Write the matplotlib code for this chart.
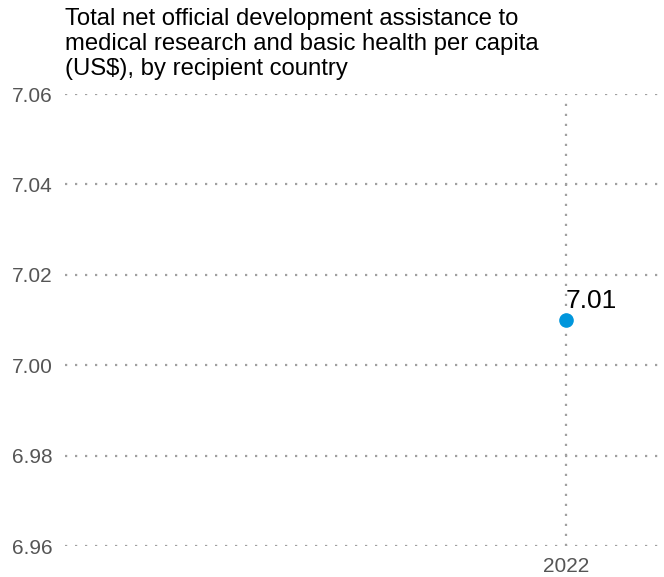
import matplotlib
matplotlib.use('Agg')
from matplotlib import pyplot as plt

plt.rcParams['font.family'] = ['Liberation Sans', 'DejaVu Sans']

years = [2022]
values = [7.01]
labels = ['7.01']
yticks = [6.96, 6.98, 7.00, 7.02, 7.04, 7.06]

fig = plt.figure(figsize=(6.64, 5.77), dpi=100)
ax = fig.add_axes([0.098, 0.0537, 0.902, 0.7833])

grid_kw = dict(color='#a0a0a0', linestyle=(0, (1, 3.5)), linewidth=1.6, zorder=1)
for y in yticks:
    ax.axhline(y, **grid_kw)
for x in years:
    ax.axvline(x, ymax=0.995, **grid_kw)

ax.plot(years, values, 'o', color='#0096dc', markersize=9.5, zorder=3)
for x, y, lab in zip(years, values, labels):
    ax.annotate(lab, (x, y), xytext=(0, 5), textcoords='offset points',
                fontsize=19, ha='left', va='bottom', color='black')

ax.set_ylim(6.96, 7.06)
ax.set_xlim(2013.64, 2023.64)
ax.set_yticks(yticks)
ax.set_yticklabels(['%.2f' % v for v in yticks])
ax.set_xticks(years)
ax.set_xticklabels([str(y) for y in years])
ax.tick_params(length=0, labelsize=15, labelcolor='#555555')
ax.tick_params(axis='y', pad=9)
ax.tick_params(axis='x', pad=8)
for s in ax.spines.values():
    s.set_visible(False)

fig.text(0.098, 0.986, 'Total net official development assistance to\n'
         'medical research and basic health per capita\n'
         '(US$), by recipient country',
         fontsize=17.2, ha='left', va='top', linespacing=1.16)

fig.savefig('out.png', dpi=100)
